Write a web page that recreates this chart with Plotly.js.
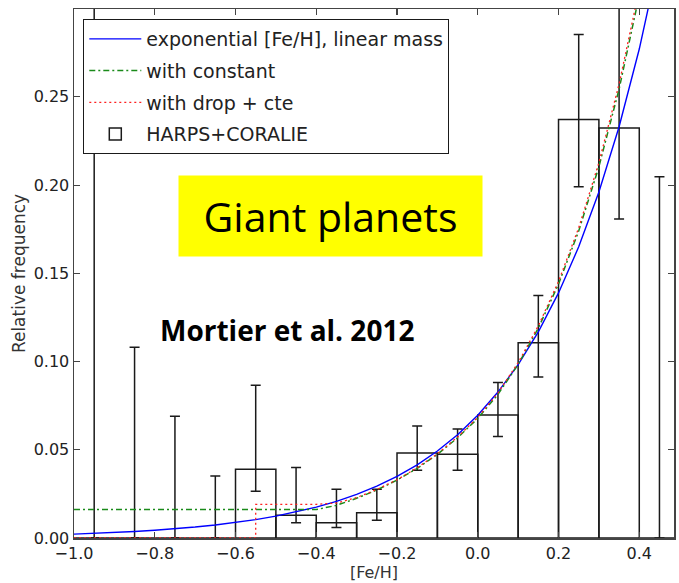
<!DOCTYPE html>
<html>
<head>
<meta charset="utf-8">
<script src="https://cdn.plot.ly/plotly-3.0.1.min.js"></script>
<style>
  html, body { margin: 0; padding: 0; background: #ffffff; }
  #chart { width: 679px; height: 583px; }
</style>
</head>
<body>
<div id="chart"></div>
<script>
// Histogram of planet-host frequency per [Fe/H] bin (bin width 0.1)
const binCenters = [-0.95, -0.85, -0.75, -0.65, -0.55, -0.45, -0.35, -0.25, -0.15, -0.05, 0.05, 0.15, 0.25, 0.35, 0.45];
const freq       = [0, 0, 0, 0, 0.0389, 0.0129, 0.0087, 0.0143, 0.0482, 0.0474, 0.0697, 0.1106, 0.2372, 0.2324, 0];
const errUpper   = [0.34, 0.1081, 0.0690, 0.0352, 0.0866, 0.0399, 0.0276, 0.0276, 0.0635, 0.0618, 0.0881, 0.1374, 0.2854, 0.33, 0.2047];
const errLower   = [0, 0, 0, 0, 0.0265, 0.0087, 0.0059, 0.0100, 0.0384, 0.0384, 0.0575, 0.0913, 0.1990, 0.1808, 0];

// Exponential [Fe/H] fit, linear mass
const expX = [-1.0, -0.95, -0.9, -0.85, -0.8, -0.75, -0.7, -0.65, -0.6, -0.55, -0.5, -0.45, -0.4, -0.35, -0.3,
              -0.25, -0.2, -0.15, -0.1, -0.05, 0.0, 0.05, 0.1, 0.15, 0.2, 0.25, 0.3, 0.35, 0.4, 0.45];
const expY = [0.00220, 0.00262, 0.00311, 0.00370, 0.00439, 0.00522, 0.00620, 0.00737, 0.00876, 0.01041,
              0.01238, 0.01471, 0.01748, 0.02077, 0.02470, 0.02935, 0.03488, 0.04146, 0.04927, 0.05856,
              0.0696, 0.08272, 0.0983, 0.1168, 0.1389, 0.1650, 0.1961, 0.2331, 0.2771, 0.3293];

// Fit with a constant floor at low metallicity
const cstX = [-1.0, -0.40, -0.35, -0.30, -0.25, -0.20, -0.15, -0.10, -0.05, 0.0, 0.05, 0.10, 0.15, 0.20, 0.25, 0.30, 0.35, 0.40, 0.45];
const cstY = [0.0161, 0.0161, 0.0185, 0.0225, 0.0272, 0.0328, 0.0395, 0.0474, 0.0568, 0.0678, 0.0814, 0.0984, 0.1190, 0.1439, 0.1740, 0.2104, 0.2544, 0.3076, 0.372];

// Fit with a drop below -0.55 and a constant level above it
const dropX = [-1.0, -0.55, -0.55, -0.40, -0.35, -0.30, -0.25, -0.20, -0.15, -0.10, -0.05, 0.0, 0.05, 0.10, 0.15, 0.20, 0.25, 0.30, 0.35, 0.40, 0.45];
const dropY = [0, 0, 0.0191, 0.0191, 0.0198, 0.0229, 0.0275, 0.0330, 0.0398, 0.0477, 0.0572, 0.0684, 0.0822, 0.0994, 0.1202, 0.1454, 0.1758, 0.2127, 0.2573, 0.3111, 0.376];

const xTicks = [-1.0, -0.8, -0.6, -0.4, -0.2, 0.0, 0.2, 0.4];
const yTicks = [0.00, 0.05, 0.10, 0.15, 0.20, 0.25];

const errPlus  = errUpper.map((u, i) => u - freq[i]);
const errMinus = freq.map((f, i) => f - errLower[i]);

const ink = '#1a1a1a';
const axisInk = '#444444';

const traces = [
  {
    type: 'bar',
    name: 'HARPS+CORALIE',
    legendgroup: 'g4',
    legendrank: 4,
    x: binCenters,
    y: freq,
    width: 0.1,
    marker: { color: 'rgba(0,0,0,0)', line: { color: ink, width: 1.5 } },
    error_y: {
      type: 'data', symmetric: false,
      array: errPlus, arrayminus: errMinus,
      color: ink, thickness: 1.5, width: 5
    },
    hoverinfo: 'x+y'
  },
  {
    type: 'scatter', mode: 'lines',
    name: 'exponential [Fe/H], linear mass',
    legendgroup: 'g1', legendrank: 1,
    x: expX, y: expY,
    line: { color: '#0000ff', width: 1.4 }
  },
  {
    type: 'scatter', mode: 'lines',
    name: 'with constant',
    legendgroup: 'g2', legendrank: 2,
    x: cstX, y: cstY,
    line: { color: '#1a8a1a', width: 1.5, dash: '6px,3px,2px,3px' }
  },
  {
    type: 'scatter', mode: 'lines',
    name: 'with drop + cte',
    legendgroup: 'g3', legendrank: 3,
    x: dropX, y: dropY,
    line: { color: '#ff2020', width: 1.3, dash: '2px,3px' }
  }
];

const layout = {
  width: 679,
  height: 583,
  margin: { l: 74, r: 5, t: 9, b: 45 },
  paper_bgcolor: '#ffffff',
  plot_bgcolor: '#ffffff',
  font: { family: 'DejaVu Sans', size: 16, color: '#222222' },
  bargap: 0,
  showlegend: true,
  legend: {
    x: 0.0155, y: 0.981, xanchor: 'left', yanchor: 'top',
    bgcolor: '#ffffff', bordercolor: ink, borderwidth: 1,
    font: { family: 'DejaVu Sans', size: 19, color: '#222222' },
    tracegroupgap: 4,
    itemwidth: 52
  },
  xaxis: {
    range: [-1.0, 0.486],
    tickvals: xTicks,
    tickformat: '.1f',
    ticks: 'inside', ticklen: 6, tickwidth: 1.2, tickcolor: axisInk,
    showline: true, linecolor: axisInk, linewidth: 1.5, mirror: 'ticks',
    showgrid: false, zeroline: false,
    tickfont: { size: 16, color: '#222222' },
    title: { text: '[Fe/H]', font: { size: 16, color: '#333333' }, standoff: 2 }
  },
  yaxis: {
    range: [0, 0.2998],
    tickvals: yTicks,
    tickformat: '.2f',
    ticks: 'inside', ticklen: 6, tickwidth: 1.2, tickcolor: axisInk,
    showline: true, linecolor: axisInk, linewidth: 1.5, mirror: 'ticks',
    showgrid: false, zeroline: false,
    tickfont: { size: 16, color: '#222222' },
    title: { text: 'Relative frequency', font: { size: 17, color: '#333333' }, standoff: 3 }
  },
  annotations: [
    {
      xref: 'paper', yref: 'paper',
      x: 0.4275, y: 0.6078, xanchor: 'center', yanchor: 'middle',
      text: 'Giant planets',
      showarrow: false,
      bgcolor: '#ffff00',
      width: 301, height: 78,
      font: { family: 'Open Sans', size: 41, color: '#000000' }
    },
    {
      xref: 'paper', yref: 'paper',
      x: 0.3545, y: 0.394, xanchor: 'center', yanchor: 'middle',
      text: '<b>Mortier et al. 2012</b>',
      showarrow: false,
      font: { family: 'Open Sans', size: 28, color: '#000000' }
    }
  ]
};

Plotly.newPlot('chart', traces, layout, { displayModeBar: false, staticPlot: true });
</script>
</body>
</html>
